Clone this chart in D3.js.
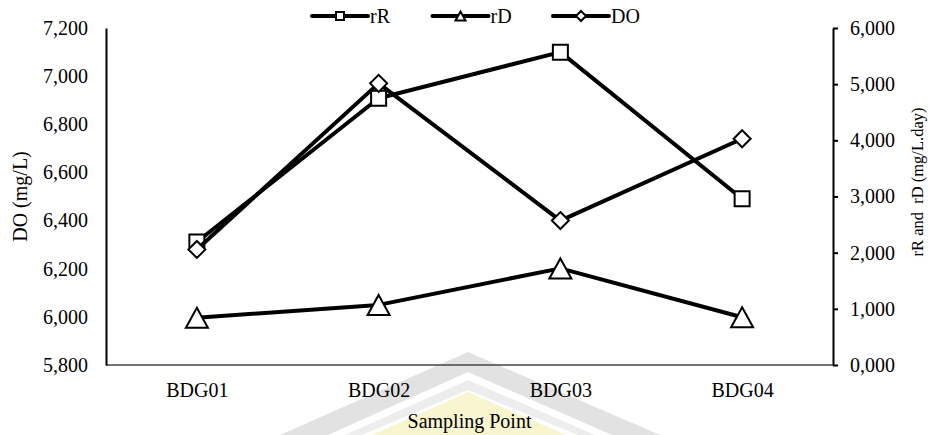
<!DOCTYPE html>
<html>
<head>
<meta charset="utf-8">
<script src="https://cdn.jsdelivr.net/npm/d3@7"></script>
<style>
  body { margin: 0; background: #fff; }
  text { font-family: "Liberation Serif", "Times New Roman", serif; fill: #000; }
</style>
</head>
<body>
<div id="chart"></div>
<script>
// data
var categories = ["BDG01", "BDG02", "BDG03", "BDG04"];
var rR = [2190, 4750, 5570, 2960];
var rD = [840, 1070, 1720, 850];
var DO = [6280, 6970, 6400, 6740];
var leftTicks = [5800, 6000, 6200, 6400, 6600, 6800, 7000, 7200];
var rightTicks = [0, 1000, 2000, 3000, 4000, 5000, 6000];
var rightTickLabels = ["0,000", "1,000", "2,000", "3,000", "4,000", "5,000", "6,000"];

var W = 929, H = 435;
var plot = {left: 106, right: 833, top: 28, bottom: 365};

var svg = d3.select("#chart").append("svg")
    .attr("width", W)
    .attr("height", H);

// faint watermark behind the chart
var wm = svg.append("g").attr("class", "watermark");
wm.append("polygon")
  .attr("points", "372,435 468,392 566,435")
  .style("fill", "#f8f5cf");
wm.append("polygon")
  .attr("points", "280,435 468,352 660,435 612,435 468,372 328,435")
  .style("fill", "#e2e2e2");
wm.append("polygon")
  .attr("points", "345,435 468,380 595,435 578,435 468,390 362,435")
  .style("fill", "#ededed");

var x = d3.scalePoint()
    .domain(categories)
    .range([plot.left, plot.right])
    .padding(0.5);

var yL = d3.scaleLinear().domain([5800, 7200]).range([plot.bottom, plot.top]);
var yR = d3.scaleLinear().domain([0, 6000]).range([plot.bottom, plot.top]);

// bottom axis
var xAxis = svg.append("g")
  .attr("transform", "translate(0," + plot.bottom + ")")
  .call(d3.axisBottom(x).tickSize(0).tickSizeOuter(0).tickPadding(18));
xAxis.select(".domain").style("stroke", "#444").style("stroke-width", 1.5)
  .attr("d", "M" + plot.left + ",0H" + plot.right);
xAxis.selectAll("text").style("font-size", "20px");

// left axis
var leftAxis = svg.append("g")
  .attr("transform", "translate(" + plot.left + ",0)")
  .call(d3.axisLeft(yL).tickValues(leftTicks).tickFormat(d3.format(",")).tickSize(0).tickSizeOuter(0).tickPadding(18));
leftAxis.select(".domain").style("stroke", "#000").style("stroke-width", 2);
leftAxis.selectAll("text").style("font-size", "20px");

// right axis
var rightAxis = svg.append("g")
  .attr("transform", "translate(" + plot.right + ",0)")
  .call(d3.axisRight(yR).tickValues(rightTicks)
    .tickFormat(function(d, i) { return rightTickLabels[i]; })
    .tickSize(5).tickSizeOuter(0).tickPadding(12));
rightAxis.select(".domain").style("stroke", "#000").style("stroke-width", 2);
rightAxis.selectAll(".tick line").style("stroke", "#000").style("stroke-width", 2);
rightAxis.selectAll("text").style("font-size", "20px");

// axis titles
svg.append("text")
  .attr("transform", "translate(27," + ((plot.top + plot.bottom) / 2) + ") rotate(-90)")
  .attr("text-anchor", "middle")
  .style("font-size", "20px")
  .text("DO (mg/L)");

svg.append("text")
  .attr("transform", "translate(923,182) rotate(-90)")
  .attr("text-anchor", "middle")
  .style("font-size", "16.5px")
  .style("white-space", "pre")
  .text("rR and  rD (mg/L.day)");

svg.append("text")
  .attr("x", (plot.left + plot.right) / 2)
  .attr("y", 428)
  .attr("text-anchor", "middle")
  .style("font-size", "20px")
  .text("Sampling Point");

// marker shapes
function square(s) { return "M" + (-s/2) + "," + (-s/2) + "h" + s + "v" + s + "h" + (-s) + "Z"; }
function triangle(w, h) { return "M0," + (-h/2) + "L" + (w/2) + "," + (h/2) + "L" + (-w/2) + "," + (h/2) + "Z"; }
function diamond(r) { return "M0," + (-r) + "L" + r + ",0L0," + r + "L" + (-r) + ",0Z"; }

var series = [
  {name: "rR", values: rR, y: yR, big: square(15), small: square(8)},
  {name: "rD", values: rD, y: yR, big: triangle(22, 20), small: triangle(10, 9)},
  {name: "DO", values: DO, y: yL, big: diamond(8.5), small: diamond(5)}
];

var line = d3.line();

series.forEach(function(s) {
  var pts = s.values.map(function(v, i) { return [x(categories[i]), s.y(v)]; });
  svg.append("path")
    .attr("d", line(pts))
    .style("fill", "none")
    .style("stroke", "#000")
    .style("stroke-width", 4)
    .style("stroke-linejoin", "round");
  svg.selectAll(null)
    .data(pts)
    .enter().append("path")
    .attr("d", s.big)
    .attr("transform", function(p) { return "translate(" + p[0] + "," + p[1] + ")"; })
    .style("fill", "#fff")
    .style("stroke", "#000")
    .style("stroke-width", 2);
});

// legend
var legend = svg.append("g").attr("transform", "translate(312,16)");
series.forEach(function(s, i) {
  var g = legend.append("g").attr("transform", "translate(" + (i * 120.5) + ",0)");
  g.append("line")
    .attr("x1", 0).attr("x2", 56).attr("y1", 0).attr("y2", 0)
    .style("stroke", "#000").style("stroke-width", 4).style("stroke-linecap", "round");
  g.append("path")
    .attr("d", s.small)
    .attr("transform", "translate(28,0)")
    .style("fill", "#fff").style("stroke", "#000").style("stroke-width", 2);
  g.append("text")
    .attr("x", 58).attr("y", 7)
    .style("font-size", "20px")
    .text(s.name);
});
</script>
</body>
</html>
